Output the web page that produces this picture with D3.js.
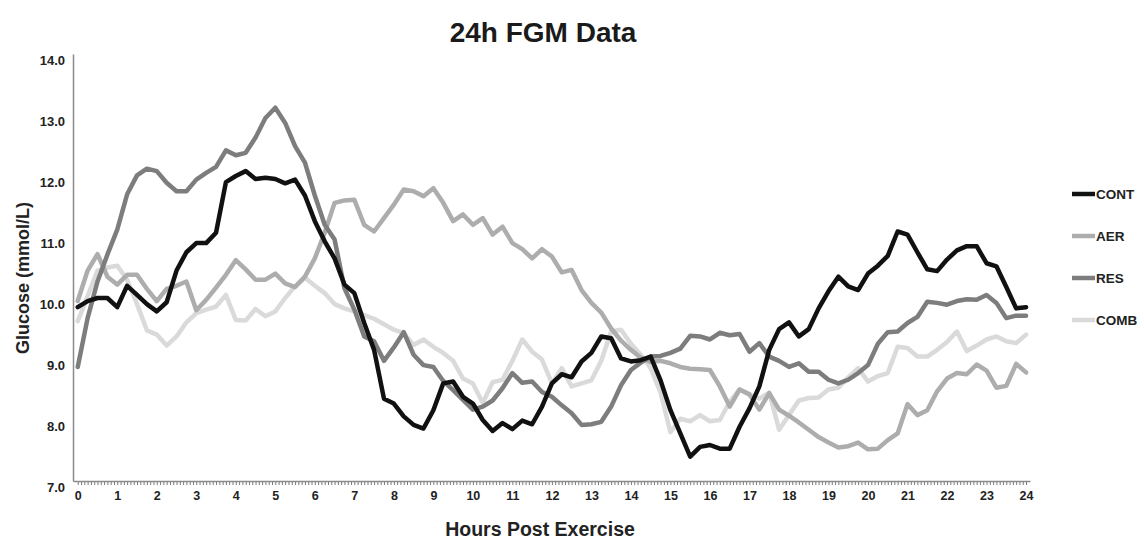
<!DOCTYPE html>
<html><head><meta charset="utf-8">
<script src="https://cdn.jsdelivr.net/npm/d3@7"></script>
<style>
body{margin:0;background:#fff;}
svg{display:block;font-family:"Liberation Sans",Arial,sans-serif;}
</style>
</head><body>
<svg id="chart" width="1144" height="541"></svg>
<script>
// ---- data (15-minute readings, 0h .. 24h) ----
const seriesNames = ["CONT", "AER", "RES", "COMB"];
const seriesColors = ["#111111", "#adadad", "#7d7d7d", "#dadada"];
const yTickValues = [7, 8, 9, 10, 11, 12, 13, 14];
const xTickValues = [0,1,2,3,4,5,6,7,8,9,10,11,12,13,14,15,16,17,18,19,20,21,22,23,24];

const cont = [9.85,9.95,10.0,10.0,9.85,10.2,10.05,9.9,9.78,9.93,10.45,10.75,10.9,10.9,11.07,11.9,12.0,12.08,11.95,11.97,
  11.95,11.88,11.94,11.68,11.26,10.93,10.65,10.22,10.08,9.59,9.15,8.35,8.27,8.06,7.92,7.86,8.16,8.6,8.63,8.38,
  8.27,8.0,7.82,7.95,7.85,7.99,7.93,8.22,8.6,8.75,8.7,8.96,9.1,9.37,9.34,9.01,8.96,8.98,9.04,8.65,
  8.16,7.78,7.4,7.56,7.59,7.53,7.53,7.89,8.19,8.55,9.15,9.49,9.6,9.37,9.49,9.83,10.11,10.35,10.19,10.13,
  10.4,10.53,10.69,11.09,11.04,10.75,10.47,10.44,10.63,10.78,10.85,10.85,10.57,10.52,10.18,9.83,9.85];

const aer = [9.95,10.45,10.72,10.35,10.22,10.38,10.38,10.15,9.95,10.15,10.2,10.27,9.8,9.97,10.17,10.38,10.62,10.47,10.3,10.3,
  10.4,10.24,10.18,10.35,10.65,11.07,11.56,11.6,11.61,11.2,11.09,11.31,11.53,11.78,11.75,11.67,11.8,11.56,11.26,11.37,
  11.2,11.31,11.04,11.17,10.9,10.8,10.65,10.8,10.68,10.42,10.46,10.13,9.92,9.76,9.5,9.3,9.15,9.02,8.95,8.97,
  8.93,8.87,8.84,8.83,8.82,8.55,8.22,8.5,8.42,8.17,8.44,8.17,8.07,7.96,7.84,7.72,7.63,7.55,7.57,7.63,
  7.52,7.53,7.67,7.78,8.26,8.08,8.16,8.47,8.68,8.77,8.75,8.91,8.81,8.53,8.56,8.92,8.78];

const res = [8.87,9.67,10.27,10.71,11.12,11.7,12.01,12.12,12.08,11.89,11.75,11.75,11.94,12.05,12.15,12.42,12.34,12.38,12.63,12.95,
  13.12,12.87,12.49,12.22,11.68,11.2,10.96,10.16,9.81,9.37,9.29,8.97,9.19,9.44,9.07,8.9,8.87,8.64,8.49,8.33,
  8.17,8.22,8.32,8.52,8.77,8.61,8.63,8.46,8.38,8.24,8.11,7.92,7.93,7.97,8.22,8.57,8.82,8.94,9.04,9.05,
  9.1,9.17,9.38,9.37,9.32,9.43,9.39,9.41,9.12,9.26,9.04,8.97,8.87,8.93,8.79,8.79,8.66,8.6,8.66,8.77,
  8.9,9.25,9.44,9.45,9.59,9.69,9.94,9.92,9.89,9.95,9.98,9.97,10.05,9.92,9.67,9.71,9.71];

const comb = [9.62,10.03,10.45,10.5,10.53,10.3,9.9,9.47,9.4,9.22,9.37,9.6,9.75,9.81,9.86,10.05,9.64,9.63,9.82,9.7,
  9.78,10.0,10.19,10.33,10.2,10.08,9.9,9.83,9.78,9.72,9.66,9.57,9.48,9.42,9.23,9.32,9.2,9.1,8.97,8.68,
  8.6,8.28,8.62,8.66,8.97,9.32,9.12,8.99,8.6,8.85,8.55,8.6,8.65,8.97,9.45,9.48,9.25,9.07,8.85,8.45,
  7.8,8.02,7.98,8.08,7.98,8.0,8.3,8.5,8.42,8.35,8.45,7.84,8.08,8.32,8.36,8.37,8.5,8.53,8.7,8.85,
  8.63,8.72,8.77,9.2,9.18,9.04,9.04,9.15,9.28,9.45,9.13,9.22,9.32,9.37,9.29,9.26,9.4];

const seriesValues = [cont, aer, res, comb];
const stepHours = 0.25;

// ---- drawing ----
const svg = d3.select("#chart");
const x = d3.scaleLinear().domain([-0.12, 24.1]).range([73, 1030]);
const y = d3.scaleLinear().domain([7, 14]).range([481, 54]);

// title
svg.append("text").attr("x", 543).attr("y", 42).attr("text-anchor", "middle")
  .attr("font-size", 28).attr("font-weight", "bold").attr("fill", "#1a1a1a").text("24h FGM Data");

// y axis
const yAxis = svg.append("g").attr("transform", "translate(73,0)")
  .call(d3.axisLeft(y).tickValues(yTickValues).tickFormat(d3.format(".1f")).tickSize(0).tickPadding(8).tickSizeOuter(0));
yAxis.select(".domain").attr("stroke", "#8a8a8a").attr("stroke-width", 1.5);
yAxis.selectAll("text").attr("y", 6).attr("font-size", 13).attr("font-weight", "bold")
  .attr("fill", "#222").attr("font-family", "Liberation Sans, Arial, sans-serif");

// x axis minor ticks
const minor = d3.range(0, 24 * 12 + 1).map(i => i / 12);
const xMinor = svg.append("g").attr("transform", "translate(0,481)")
  .call(d3.axisBottom(x).tickValues(minor).tickSize(4).tickFormat("").tickSizeOuter(0));
xMinor.select(".domain").remove();
xMinor.selectAll(".tick line").attr("stroke", "#7a7a7a").attr("stroke-width", 1);

// x axis main
const xAxis = svg.append("g").attr("transform", "translate(0,481)")
  .call(d3.axisBottom(x).tickValues(xTickValues).tickFormat(d3.format("d")).tickSize(0).tickPadding(10).tickSizeOuter(0));
xAxis.select(".domain").attr("stroke", "#8a8a8a").attr("stroke-width", 1.5);
xAxis.selectAll("text").attr("font-size", 12.5).attr("font-weight", "bold")
  .attr("fill", "#222").attr("font-family", "Liberation Sans, Arial, sans-serif");

// axis titles
svg.append("text").attr("x", 540).attr("y", 536).attr("text-anchor", "middle")
  .attr("font-size", 19.5).attr("font-weight", "bold").attr("fill", "#222").text("Hours Post Exercise");
svg.append("text").attr("transform", "translate(29,278) rotate(-90)").attr("text-anchor", "middle")
  .attr("font-size", 18).attr("font-weight", "bold").attr("fill", "#222").text("Glucose (mmol/L)");

// lines (drawn so that CONT ends on top)
const line = d3.line().x((d, i) => x(i * stepHours)).y(d => y(d));
const order = [3, 1, 2, 0];
order.forEach(k => {
  svg.append("path").datum(seriesValues[k]).attr("d", line)
    .attr("fill", "none").attr("stroke", seriesColors[k]).attr("stroke-width", 4.5)
    .attr("stroke-linejoin", "round").attr("stroke-linecap", "round");
});

// legend
const legendY = d3.scalePoint().domain(seriesNames).range([194, 320]);
const lg = svg.append("g");
seriesNames.forEach((n, k) => {
  lg.append("line").attr("x1", 1072).attr("x2", 1095).attr("y1", legendY(n)).attr("y2", legendY(n))
    .attr("stroke", seriesColors[k]).attr("stroke-width", 4.5);
  lg.append("text").attr("x", 1096).attr("y", legendY(n)).attr("dy", "0.36em")
    .attr("font-size", 13.5).attr("font-weight", "bold").attr("fill", "#222").text(n);
});
</script>
</body></html>
